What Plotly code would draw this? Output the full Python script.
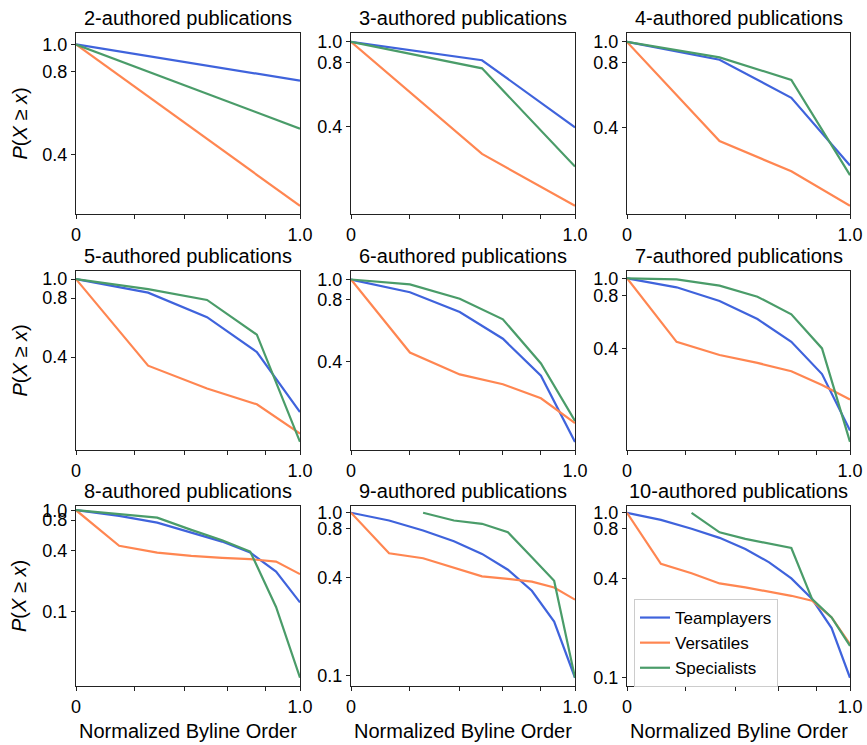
import math
import plotly.graph_objects as go

# ---------------- data ----------------
author_counts = [2, 3, 4, 5, 6, 7, 8, 9, 10]
series_names = ["Teamplayers", "Versatiles", "Specialists"]

teamplayers = {
    2: [1.0, 0.74],
    3: [1.0, 0.82, 0.398],
    4: [1.0, 0.826, 0.548, 0.265],
    5: [1.0, 0.853, 0.640, 0.425, 0.21],
    6: [1.0, 0.867, 0.694, 0.515, 0.34, 0.162],
    7: [1.0, 0.889, 0.743, 0.587, 0.436, 0.286, 0.137],
    8: [1.0, 0.879, 0.755, 0.601, 0.49, 0.382, 0.248, 0.123],
    9: [1.0, 0.896, 0.778, 0.668, 0.558, 0.446, 0.331, 0.214, 0.0966],
    10: [1.0, 0.906, 0.8, 0.705, 0.604, 0.501, 0.4, 0.3, 0.2, 0.1],
}
versatiles = {
    2: [1.0, 0.261],
    3: [1.0, 0.299, 0.171],
    4: [1.0, 0.345, 0.249, 0.172],
    5: [1.0, 0.362, 0.277, 0.230, 0.163],
    6: [1.0, 0.441, 0.345, 0.309, 0.264, 0.20],
    7: [1.0, 0.436, 0.367, 0.331, 0.297, 0.248, 0.205],
    8: [1.0, 0.445, 0.382, 0.354, 0.339, 0.329, 0.311, 0.234],
    9: [1.0, 0.563, 0.525, 0.461, 0.406, 0.392, 0.377, 0.347, 0.292],
    10: [1.0, 0.49, 0.43, 0.373, 0.353, 0.334, 0.314, 0.293, 0.232, 0.16],
}
specialists = {
    2: [1.0, 0.496],
    3: [1.0, 0.752, 0.261],
    4: [1.0, 0.847, 0.665, 0.239],
    5: [1.0, 0.889, 0.783, 0.521, 0.148],
    6: [1.0, 0.946, 0.806, 0.64, 0.39, 0.205],
    7: [1.0, 0.987, 0.908, 0.786, 0.624, 0.4, 0.118],
    8: [1.0, 0.914, 0.845, 0.64, 0.506, 0.391, 0.111, 0.0223],
    9: [None, None, 1.0, 0.896, 0.855, 0.759, 0.533, 0.382, 0.0966],
    10: [None, None, 1.0, 0.762, 0.695, 0.648, 0.612, 0.3, 0.232, 0.156],
}

x_tick_values = [0.0, 0.2, 0.4, 0.6, 0.8, 1.0]
x_tick_labels = ["0", "", "", "", "", "1.0"]
y_tick_values = [1.0, 0.8, 0.4, 0.1]
y_tick_labels = ["1.0", "0.8", "0.4", "0.1"]

# ---------------- styling / layout ----------------
W, H = 867, 745
colors = {"Teamplayers": "#3f63dc", "Versatiles": "#ff8651", "Specialists": "#4a9c69"}
FONT = "Liberation Sans, Arial, Helvetica, sans-serif"
col_left = [76, 351, 627]
col_right = [300, 575, 850]
row_top = [33, 271, 506]
row_bot = [214, 450, 686]

fig = go.Figure()
annotations = []
layout = {}

for k, n in enumerate(author_counts):
    r, c = divmod(k, 3)
    idx = k + 1
    xa = "x" if idx == 1 else f"x{idx}"
    ya = "y" if idx == 1 else f"y{idx}"
    xkey = "xaxis" if idx == 1 else f"xaxis{idx}"
    ykey = "yaxis" if idx == 1 else f"yaxis{idx}"
    xs = [1.0 + i / (n - 1) for i in range(n)]
    all_vals = []
    for name, src in zip(series_names, [teamplayers, versatiles, specialists]):
        ys = src[n]
        all_vals += [v for v in ys if v is not None]
        fig.add_trace(go.Scatter(
            x=xs, y=ys, mode="lines", name=name,
            line=dict(color=colors[name], width=2.2),
            xaxis=xa, yaxis=ya,
            showlegend=(n == 10), connectgaps=False,
        ))
    lmin = math.log10(min(all_vals))
    lo = lmin - 0.05 * (0 - lmin)
    hi = math.log10(1.1)
    tv = [t for t in y_tick_values if t >= 10 ** lo]
    tt = [y_tick_labels[y_tick_values.index(t)] for t in tv]
    layout[xkey] = dict(
        domain=[col_left[c] / W, col_right[c] / W], anchor=ya,
        type="log", range=[0, math.log10(2)], automargin=False,
        tickvals=[1 + t for t in x_tick_values], ticktext=x_tick_labels,
        ticks="outside", ticklen=4, tickwidth=1, tickcolor="#222",
        showline=True, mirror=True, linecolor="#222", linewidth=1.2,
        showgrid=False, zeroline=False,
        tickfont=dict(family=FONT, size=18, color="black"),
    )
    layout[ykey] = dict(
        domain=[1 - row_bot[r] / H, 1 - row_top[r] / H], anchor=xa,
        type="log", range=[lo, hi], automargin=False,
        tickvals=tv, ticktext=tt,
        ticks="outside", ticklen=4, tickwidth=1, tickcolor="#222",
        showline=True, mirror=True, linecolor="#222", linewidth=1.2,
        showgrid=False, zeroline=False,
        tickfont=dict(family=FONT, size=18, color="black"),
    )
    # panel title
    annotations.append(dict(
        text=f"{n}-authored publications", xref="paper", yref="paper",
        x=(col_left[c] + col_right[c]) / 2 / W, y=1 - (row_top[r] - 15) / H,
        xanchor="center", yanchor="middle", showarrow=False,
        font=dict(family=FONT, size=20, color="black"),
    ))
    if c == 0:
        annotations.append(dict(
            text="<i>P</i>(<i>X</i> ≥ <i>x</i>)", xref="paper", yref="paper",
            x=19 / W, y=1 - (row_top[r] + row_bot[r]) / 2 / H,
            xanchor="center", yanchor="middle", textangle=-90, showarrow=False,
            font=dict(family=FONT, size=20, color="black"),
        ))
    if r == 2:
        annotations.append(dict(
            text="Normalized Byline Order", xref="paper", yref="paper",
            x=(col_left[c] + col_right[c]) / 2 / W, y=1 - 731 / H,
            xanchor="center", yanchor="middle", showarrow=False,
            font=dict(family=FONT, size=20, color="black"),
        ))

fig.update_layout(
    width=W, height=H, margin=dict(l=0, r=0, t=0, b=0, autoexpand=False),
    paper_bgcolor="white", plot_bgcolor="white",
    annotations=annotations,
    legend=dict(
        x=634 / W, y=1 - 599 / H, xanchor="left", yanchor="top",
        bgcolor="rgba(255,255,255,0.85)", bordercolor="#cccccc", borderwidth=1,
        font=dict(family=FONT, size=17, color="black"),
        tracegroupgap=0,
    ),
    **layout,
)

fig.write_html("out.html", config={"displayModeBar": False},
               post_script="document.body.style.margin='0px';")
